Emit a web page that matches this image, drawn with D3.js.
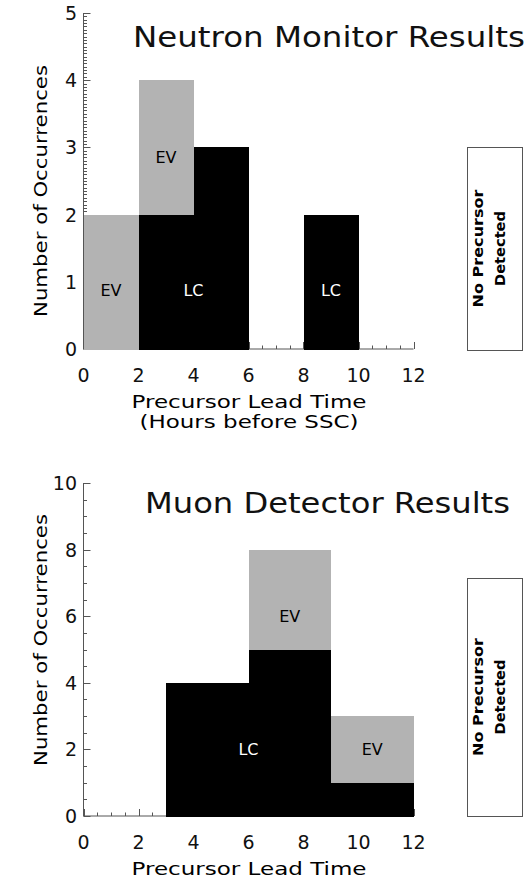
<!DOCTYPE html>
<html><head><meta charset="utf-8">
<script src="https://cdn.jsdelivr.net/npm/d3@7"></script>
<style>body{margin:0;background:#fff}svg{display:block}text{font-family:"DejaVu Sans",sans-serif}</style>
</head><body><svg id="c" width="527" height="881"></svg>
<script>
// ---- Data ----
const xTicks = [0, 2, 4, 6, 8, 10, 12];
// Neutron Monitor panel
const neutronX0 = [0, 2, 4, 8];
const neutronX1 = [2, 4, 6, 10];
const neutronLC = [0, 2, 3, 2];
const neutronEV = [2, 2, 0, 0];
const neutronYTicks = [0, 1, 2, 3, 4, 5];
const neutronLabels = ["EV", "LC", "EV", "LC"];
const neutronLabelX = [1, 4, 3, 9];
const neutronLabelY = [0.87, 0.87, 2.85, 0.87];
const neutronLabelType = ["EV", "LC", "EV", "LC"];
// Muon Detector panel
const muonX0 = [3, 6, 9];
const muonX1 = [6, 9, 12];
const muonLC = [4, 5, 1];
const muonEV = [0, 3, 2];
const muonYTicks = [0, 2, 4, 6, 8, 10];
const muonLabels = ["LC", "EV", "EV"];
const muonLabelX = [6, 7.5, 10.5];
const muonLabelY = [2, 6, 2];
const muonLabelType = ["LC", "EV", "EV"];

const GRAY = "#b3b3b3", AX = "#555";
const svg = d3.select("#c");
svg.append("rect").attr("width", 527).attr("height", 881).attr("fill", "#fff");

function panel(o) {
  const x = d3.scaleLinear().domain([0, 12]).range([83.5, 413.5]);
  const y = d3.scaleLinear().domain([0, o.ymax]).range([o.y0, o.y1]);
  const g = svg.append("g");
  // axes: y axis with ticks pointing inward
  g.append("line").attr("x1", x(0)).attr("x2", x(0)).attr("y1", y(0)).attr("y2", y(o.ymax)).attr("stroke", AX);
  g.append("line").attr("x1", x(0)).attr("x2", x(12)).attr("y1", y(0)).attr("y2", y(0)).attr("stroke", AX);
  const yMinor = d3.range(0, o.ymax + 1e-9, o.yMinorStep);
  g.selectAll(".ym").data(yMinor).join("line")
    .attr("x1", x(0)).attr("x2", d => x(0) + (o.yTicks.some(t => Math.abs(t - d) < 1e-9) ? 7 : 3.5))
    .attr("y1", d => Math.round(y(d)) + 0.5).attr("y2", d => Math.round(y(d)) + 0.5).attr("stroke", AX);
  const xMinor = d3.range(0, 12 + 1e-9, 0.5);
  g.selectAll(".xm").data(xMinor).join("line")
    .attr("x1", d => Math.round(x(d)) + 0.5).attr("x2", d => Math.round(x(d)) + 0.5)
    .attr("y1", y(0)).attr("y2", d => y(0) - (xTicks.includes(d) ? 7 : 3.5)).attr("stroke", AX);
  // tick labels
  g.selectAll(".yl").data(o.yTicks).join("text")
    .attr("x", 77).attr("y", d => y(d) + 7).attr("text-anchor", "end")
    .attr("font-size", 19).attr("fill", "#111").text(d => d);
  g.selectAll(".xl").data(xTicks).join("text")
    .attr("x", d => x(d)).attr("y", y(0) + 33).attr("text-anchor", "middle")
    .attr("font-size", 19).attr("fill", "#111").text(d => d);
  // bars: LC black at bottom, EV gray stacked
  o.x0.forEach((a, i) => {
    const b = o.x1[i];
    if (o.lc[i] > 0) g.append("rect").attr("x", x(a)).attr("width", x(b) - x(a))
      .attr("y", y(o.lc[i])).attr("height", y(0) - y(o.lc[i]) + 0.5).attr("fill", "#000")
      .attr("shape-rendering", "crispEdges");
    if (o.ev[i] > 0) g.append("rect").attr("x", x(a)).attr("width", x(b) - x(a))
      .attr("y", y(o.lc[i] + o.ev[i])).attr("height", y(o.lc[i]) - y(o.lc[i] + o.ev[i]) + (o.lc[i] > 0 ? 0 : 0.5))
      .attr("fill", GRAY).attr("shape-rendering", "crispEdges");
  });
  // bar labels
  o.labels.forEach((t, i) => {
    g.append("text").attr("x", x(o.lx[i])).attr("y", y(o.ly[i]))
      .attr("dy", "0.36em").attr("text-anchor", "middle").attr("font-size", 16)
      .attr("fill", o.ltype[i] === "LC" ? "#fff" : "#000").text(t);
  });
  // title
  g.append("text").attr("x", o.tx).attr("y", o.ty).attr("font-size", 29)
    .attr("textLength", o.tw).attr("lengthAdjust", "spacingAndGlyphs").attr("fill", "#111").text(o.title);
  // y axis title
  g.append("text").attr("transform", `translate(47,${o.ylc}) rotate(-90)`).attr("text-anchor", "middle")
    .attr("font-size", 18).attr("textLength", 252).attr("lengthAdjust", "spacingAndGlyphs").text("Number of Occurrences");
  // x axis titles
  o.xt.forEach((t, i) => {
    g.append("text").attr("x", 249).attr("y", y(0) + 59 + i * 20).attr("text-anchor", "middle")
      .attr("font-size", 17).attr("textLength", o.xtw[i]).attr("lengthAdjust", "spacingAndGlyphs").text(t);
  });
  // No precursor box
  g.append("rect").attr("x", 467.5).attr("y", o.by0 + 0.5).attr("width", 55).attr("height", o.by1 - o.by0)
    .attr("fill", "none").attr("stroke", AX);
  const cy = (o.by0 + o.by1) / 2;
  [["No Precursor", 118], ["Detected", 75]].forEach(([t, w], i) => {
    g.append("text").attr("transform", `translate(${490 + i * 22 - 7},${cy}) rotate(-90)`)
      .attr("text-anchor", "middle").attr("font-size", 14).attr("font-weight", "bold")
      .attr("textLength", w).attr("lengthAdjust", "spacingAndGlyphs").text(t);
  });
}

panel({ymax: 5, y0: 349, y1: 13, yTicks: neutronYTicks, yMinorStep: 0.05,
  x0: neutronX0, x1: neutronX1, lc: neutronLC, ev: neutronEV,
  labels: neutronLabels, lx: neutronLabelX, ly: neutronLabelY, ltype: neutronLabelType,
  title: "Neutron Monitor Results", tx: 133, ty: 47, tw: 392, ylc: 191,
  xt: ["Precursor Lead Time", "(Hours before SSC)"], xtw: [235, 219], by0: 147, by1: 350});
panel({ymax: 10, y0: 816, y1: 483, yTicks: muonYTicks, yMinorStep: 0.5,
  x0: muonX0, x1: muonX1, lc: muonLC, ev: muonEV,
  labels: muonLabels, lx: muonLabelX, ly: muonLabelY, ltype: muonLabelType,
  title: "Muon Detector Results", tx: 145, ty: 513, tw: 365, ylc: 640,
  xt: ["Precursor Lead Time"], xtw: [235], by0: 578, by1: 816});
</script></body></html>
